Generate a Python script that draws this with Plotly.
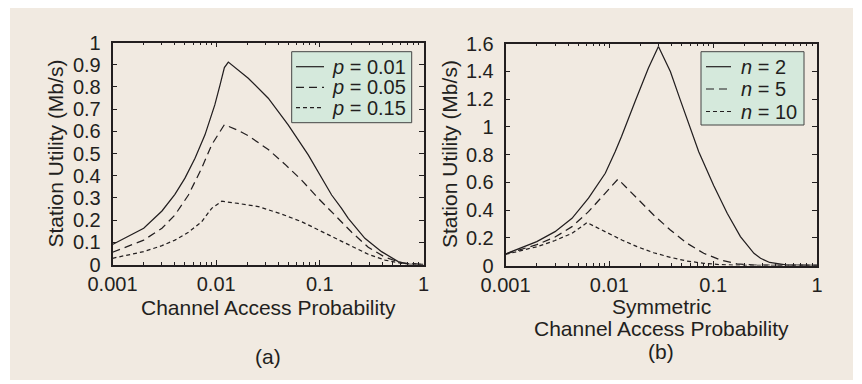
import plotly.graph_objects as go

# ---------------- data ----------------
# Panel (a): station utility vs channel access probability
a_p001_x = [0.001, 0.002, 0.003, 0.004, 0.005, 0.00625, 0.0078, 0.0097, 0.0109, 0.012, 0.0131,
            0.0204, 0.0318, 0.0495, 0.0773, 0.13, 0.162, 0.188, 0.272, 0.394, 0.57, 0.71, 1.0]
a_p001_y = [0.09, 0.163, 0.241, 0.316, 0.389, 0.479, 0.584, 0.719, 0.809, 0.887, 0.912,
            0.839, 0.749, 0.629, 0.494, 0.313, 0.253, 0.208, 0.118, 0.058, 0.013, 0.002, 0.0]

a_p005_x = [0.001, 0.002, 0.003, 0.004, 0.0054, 0.00725, 0.00905, 0.012, 0.0163, 0.0204, 0.0318,
            0.046, 0.0667, 0.0966, 0.14, 0.203, 0.293, 0.425, 0.615, 1.0]
a_p005_y = [0.055, 0.11, 0.163, 0.223, 0.313, 0.434, 0.539, 0.630, 0.604, 0.580, 0.518,
            0.452, 0.380, 0.298, 0.222, 0.145, 0.078, 0.033, 0.007, 0.0]

a_p015_x = [0.001, 0.002, 0.003, 0.004, 0.0054, 0.00725, 0.00905, 0.0113, 0.0163, 0.0255, 0.0428,
            0.0667, 0.0966, 0.14, 0.203, 0.293, 0.425, 0.615, 1.0]
a_p015_y = [0.028, 0.058, 0.085, 0.11, 0.145, 0.193, 0.253, 0.285, 0.275, 0.261, 0.227,
            0.193, 0.156, 0.118, 0.080, 0.046, 0.020, 0.005, 0.0]

# Panel (b): station utility vs symmetric channel access probability
b_n2_x = [0.001, 0.002, 0.003, 0.00437, 0.0063, 0.00914, 0.0114, 0.0131, 0.0177, 0.0238, 0.0297,
          0.0387, 0.0484, 0.0604, 0.0726, 0.1014, 0.1365, 0.183, 0.247, 0.286, 0.35, 0.5, 1.0]
b_n2_y = [0.083, 0.172, 0.244, 0.34, 0.485, 0.665, 0.821, 0.93, 1.182, 1.423, 1.579,
          1.398, 1.19, 0.995, 0.82, 0.575, 0.377, 0.208, 0.088, 0.052, 0.022, 0.004, 0.0]

b_n5_x = [0.001, 0.002, 0.003, 0.00437, 0.0063, 0.00914, 0.0121, 0.0128, 0.0185, 0.0267, 0.0387,
          0.0561, 0.0811, 0.1175, 0.17, 0.25, 1.0]
b_n5_y = [0.083, 0.15, 0.205, 0.28, 0.388, 0.521, 0.622, 0.605, 0.485, 0.364, 0.256,
          0.16, 0.088, 0.04, 0.011, 0.003, 0.0]

b_n10_x = [0.001, 0.002, 0.003, 0.00437, 0.0061, 0.00914, 0.0132, 0.0185, 0.0267, 0.0387,
           0.0561, 0.0811, 0.1175, 0.2, 1.0]
b_n10_y = [0.08, 0.135, 0.18, 0.232, 0.309, 0.244, 0.184, 0.136, 0.092, 0.059,
           0.032, 0.016, 0.006, 0.001, 0.0]

x_tickvals = [0.001, 0.01, 0.1, 1]
x_ticktext = ["0.001", "0.01", "0.1", "1"]
x_minor = [m * 10.0 ** e for e in (-3, -2, -1) for m in range(2, 10)]

legend_a = ["<i>p</i> = 0.01", "<i>p</i> = 0.05", "<i>p</i> = 0.15"]
legend_b = ["<i>n</i> = 2", "<i>n</i> = 5", "<i>n</i> = 10"]

# ---------------- styling ----------------
W, H = 862, 384
OFF = 8  # the page body margin shifts the figure by this many pixels
FONT = "Liberation Sans, Arial, Helvetica, sans-serif"
INK = "#231f20"
BEIGE = "#f1eae1"
PLOTBG = "#eef6ef"
LEGBG = "#d5e9dc"
DASHES = ["solid", "8px,5px", "4px,3px"]


def px_x(v):
    return (v - OFF) / W


def px_y(v):
    return (H - (v - OFF)) / H


fig = go.Figure()

series_a = [(a_p001_x, a_p001_y), (a_p005_x, a_p005_y), (a_p015_x, a_p015_y)]
for (xs, ys), name, dash in zip(series_a, legend_a, DASHES):
    fig.add_trace(go.Scatter(x=xs, y=ys, mode="lines", name=name, showlegend=False,
                             line=dict(color=INK, width=1.25, dash=dash),
                             xaxis="x", yaxis="y"))

series_b = [(b_n2_x, b_n2_y), (b_n5_x, b_n5_y), (b_n10_x, b_n10_y)]
for (xs, ys), name, dash in zip(series_b, legend_b, DASHES):
    fig.add_trace(go.Scatter(x=xs, y=ys, mode="lines", name=name, showlegend=False,
                             line=dict(color=INK, width=1.25, dash=dash),
                             xaxis="x2", yaxis="y2"))


def xaxis_style(domain, anchor):
    return dict(type="log", range=[-3, 0], domain=domain, anchor=anchor, automargin=False,
                tickmode="array", tickvals=x_tickvals, ticktext=x_ticktext,
                ticks="inside", ticklen=5, tickwidth=1, tickcolor=INK,
                showline=True, linecolor=INK, linewidth=1.6, mirror="ticks",
                showgrid=False, zeroline=False, ticklabelstandoff=1,
                tickfont=dict(size=20, color=INK, family=FONT),
                minor=dict(tickmode="array", tickvals=x_minor, ticks="inside",
                           ticklen=3, tickwidth=1, tickcolor=INK, showgrid=False))


def yaxis_style(domain, anchor, rng, dtick):
    return dict(range=rng, domain=domain, anchor=anchor, dtick=dtick, tick0=0, automargin=False,
                ticks="inside", ticklen=5, tickwidth=1, tickcolor=INK,
                showline=True, linecolor=INK, linewidth=1.6, mirror="ticks",
                showgrid=False, zeroline=False, ticklabelstandoff=6,
                tickfont=dict(size=20, color=INK, family=FONT))


fig.update_layout(
    width=W, height=H,
    margin=dict(l=0, r=0, t=0, b=0, pad=0, autoexpand=False),
    paper_bgcolor="white",
    plot_bgcolor=PLOTBG,
    font=dict(family=FONT, size=20, color=INK),
    xaxis=xaxis_style([px_x(112.5), px_x(423.5)], "y"),
    yaxis=yaxis_style([px_y(264.5), px_y(42.5)], "x", [0, 1], 0.1),
    xaxis2=xaxis_style([px_x(505.5), px_x(817)], "y2"),
    yaxis2=yaxis_style([px_y(265.5), px_y(43.5)], "x2", [0, 1.6], 0.2),
    showlegend=False,
)

# beige panel background
fig.add_shape(type="rect", xref="paper", yref="paper", layer="below",
              x0=px_x(10), x1=px_x(853), y0=px_y(380), y1=px_y(6),
              fillcolor=BEIGE, line=dict(width=0))

ann_font = dict(size=20, color=INK, family=FONT)
title_font = dict(size=21, color=INK, family=FONT)

# ---- legend boxes (drawn as layout items) ----
legend_specs = [
    # box left, right, top, bottom, sample x0, x1, text x, row ys, labels
    (291.7, 411.7, 51.7, 122.7, 296, 324, 330, [66.7, 87.3, 107.7], legend_a),
    (701.0, 804.0, 51.7, 125.0, 706, 731, 739, [66.7, 89.0, 111.5], legend_b),
]
for bl, br, bt, bb, s0, s1, tx, rows, labels in legend_specs:
    fig.add_shape(type="rect", xref="paper", yref="paper", layer="above",
                  x0=px_x(bl), x1=px_x(br), y0=px_y(bb), y1=px_y(bt),
                  fillcolor=LEGBG, line=dict(color="#444444", width=1))
    for ry, label, dash in zip(rows, labels, DASHES):
        fig.add_shape(type="line", xref="paper", yref="paper", layer="above",
                      x0=px_x(s0), x1=px_x(s1), y0=px_y(ry), y1=px_y(ry),
                      line=dict(color=INK, width=1.2, dash=dash))
        fig.add_annotation(text=label, xref="paper", yref="paper",
                           x=px_x(tx), y=px_y(ry), showarrow=False,
                           xanchor="left", yanchor="middle", font=ann_font)

fig.add_annotation(text="Station Utility (Mb/s)", xref="paper", yref="paper",
                   x=px_x(55), y=px_y(153.5), textangle=-90, showarrow=False,
                   xanchor="center", yanchor="middle", font=title_font)
fig.add_annotation(text="Station Utility (Mb/s)", xref="paper", yref="paper",
                   x=px_x(449.5), y=px_y(153.5), textangle=-90, showarrow=False,
                   xanchor="center", yanchor="middle", font=title_font)
fig.add_annotation(text="Channel Access Probability", xref="paper", yref="paper",
                   x=px_x(268), y=px_y(307), showarrow=False,
                   xanchor="center", yanchor="middle", font=title_font)
fig.add_annotation(text="Symmetric", xref="paper", yref="paper",
                   x=px_x(661), y=px_y(306), showarrow=False,
                   xanchor="center", yanchor="middle", font=title_font)
fig.add_annotation(text="Channel Access Probability", xref="paper", yref="paper",
                   x=px_x(661), y=px_y(328), showarrow=False,
                   xanchor="center", yanchor="middle", font=title_font)
fig.add_annotation(text="(a)", xref="paper", yref="paper",
                   x=px_x(268), y=px_y(356), showarrow=False,
                   xanchor="center", yanchor="middle", font=title_font)
fig.add_annotation(text="(b)", xref="paper", yref="paper",
                   x=px_x(661), y=px_y(351), showarrow=False,
                   xanchor="center", yanchor="middle", font=title_font)

fig.write_html("out.html")
